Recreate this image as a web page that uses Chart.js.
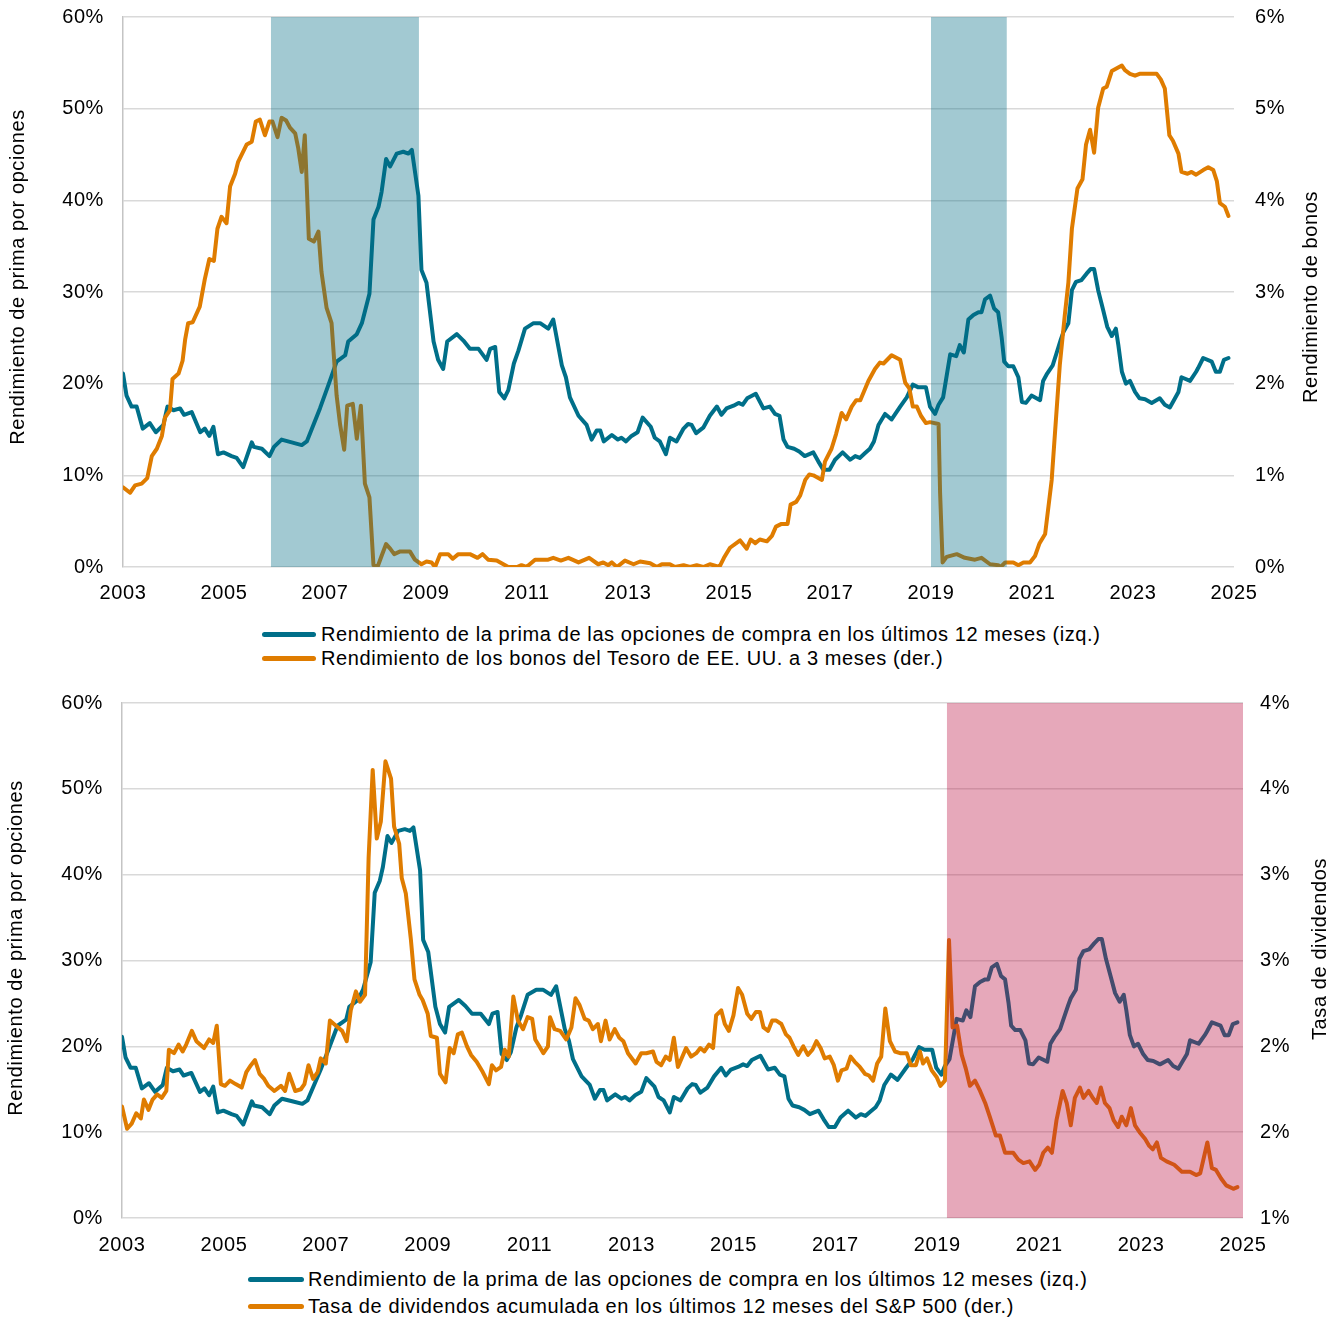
<!DOCTYPE html>
<html>
<head>
<meta charset="utf-8">
<script src="https://cdn.jsdelivr.net/npm/chart.js@4"></script>
<style>
  body { margin: 0; background: #fff; width: 1336px; height: 1319px; position: relative; overflow: hidden; }
  .box { position: absolute; left: 0; width: 1336px; }
  .legend { position: absolute; font: 20px "Liberation Sans", Arial, sans-serif; letter-spacing: .6px; color: #000; }
  .legend div { display: flex; align-items: center; white-space: nowrap; }
  .legend span { display: inline-block; height: 5px; border-radius: 3px; }
</style>
</head>
<body>
<div class="box" style="top:0;height:610px"><canvas id="topChart"></canvas></div>
<div class="legend" id="legTop" style="left:262px;top:622px;line-height:24px"></div>
<div class="box" style="top:680px;height:580px"><canvas id="bottomChart"></canvas></div>
<div class="legend" id="legBottom" style="left:248px;top:1266px;line-height:27px"></div>

<script>
// Rendimiento de la prima de las opciones de compra (izq., %)
const callYears = [2003.00,2003.07,2003.17,2003.27,2003.39,2003.53,2003.65,2003.80,2003.88,2004.00,2004.13,2004.21,2004.36,2004.53,2004.62,2004.71,2004.79,2004.88,2004.99,2005.15,2005.25,2005.38,2005.55,2005.59,2005.75,2005.90,2005.99,2006.14,2006.34,2006.54,2006.64,2006.77,2006.90,2007.07,2007.23,2007.40,2007.46,2007.63,2007.73,2007.88,2007.96,2008.06,2008.12,2008.21,2008.29,2008.42,2008.55,2008.65,2008.72,2008.85,2008.91,2009.01,2009.15,2009.24,2009.34,2009.42,2009.61,2009.74,2009.87,2010.04,2010.20,2010.27,2010.37,2010.45,2010.55,2010.63,2010.74,2010.83,2010.96,2011.13,2011.26,2011.42,2011.52,2011.69,2011.77,2011.85,2012.02,2012.18,2012.28,2012.38,2012.45,2012.52,2012.68,2012.80,2012.87,2012.96,2013.07,2013.19,2013.29,2013.45,2013.53,2013.63,2013.75,2013.83,2013.96,2014.10,2014.19,2014.26,2014.35,2014.49,2014.62,2014.76,2014.85,2014.95,2015.09,2015.19,2015.27,2015.36,2015.53,2015.68,2015.81,2015.91,2016.00,2016.08,2016.16,2016.29,2016.39,2016.50,2016.67,2016.77,2016.87,2016.99,2017.10,2017.25,2017.40,2017.50,2017.59,2017.69,2017.79,2017.87,2017.96,2018.09,2018.22,2018.39,2018.52,2018.64,2018.75,2018.90,2018.98,2019.08,2019.15,2019.24,2019.38,2019.50,2019.57,2019.65,2019.74,2019.84,2019.94,2020.00,2020.07,2020.17,2020.25,2020.33,2020.40,2020.45,2020.53,2020.63,2020.73,2020.80,2020.88,2020.99,2021.16,2021.22,2021.30,2021.41,2021.49,2021.57,2021.62,2021.72,2021.79,2021.87,2021.98,2022.08,2022.16,2022.23,2022.31,2022.41,2022.49,2022.58,2022.66,2022.71,2022.78,2022.86,2022.94,2023.04,2023.13,2023.24,2023.37,2023.53,2023.63,2023.73,2023.81,2023.90,2023.96,2024.13,2024.25,2024.29,2024.39,2024.56,2024.64,2024.72,2024.80,2024.89];
const callYield = [21.1,18.7,17.5,17.5,15.1,15.7,14.7,15.5,17.5,17.1,17.3,16.6,16.9,14.7,15.1,14.3,15.3,12.3,12.5,12.1,11.9,10.9,13.6,13.1,12.9,12.1,13.1,13.9,13.6,13.3,13.7,15.5,17.3,19.9,22.4,23.1,24.6,25.4,26.6,29.8,37.9,39.3,40.9,44.5,43.7,45.1,45.3,45.1,45.5,40.5,32.4,31.0,24.6,22.6,21.6,24.6,25.4,24.7,23.8,23.8,22.6,23.8,24.0,19.1,18.4,19.3,22.2,23.6,26.0,26.6,26.6,26.0,27.0,22.0,20.7,18.5,16.5,15.5,13.9,14.9,14.9,13.7,14.4,13.9,14.1,13.7,14.3,14.7,16.3,15.3,14.1,13.7,12.3,14.1,13.7,15.1,15.6,15.5,14.6,15.2,16.5,17.5,16.6,17.3,17.6,17.9,17.7,18.4,18.9,17.3,17.5,16.7,16.5,13.9,13.1,12.9,12.6,12.1,12.5,11.5,10.6,10.6,11.7,12.5,11.7,12.1,11.9,12.4,12.9,13.7,15.5,16.7,16.1,17.5,18.5,19.9,19.6,19.6,17.5,16.7,17.7,18.5,23.2,23.0,24.2,23.4,27.0,27.5,27.8,27.8,29.2,29.6,28.2,27.8,25.0,22.4,21.9,21.9,20.7,18.0,17.9,18.7,18.2,20.3,21.1,22.0,23.4,24.8,25.6,26.6,30.2,31.1,31.3,32.0,32.5,32.5,30.2,28.0,26.2,25.2,26.0,24.2,21.3,20.0,20.3,19.1,18.4,18.3,17.9,18.4,17.7,17.4,18.2,19.1,20.7,20.3,21.3,21.7,22.8,22.4,21.3,21.3,22.6,22.8];

// Rendimiento de los bonos del Tesoro a 3 meses (der., %)
const billYears = [2003.00,2003.14,2003.24,2003.37,2003.48,2003.57,2003.67,2003.77,2003.83,2003.93,2003.98,2004.10,2004.18,2004.23,2004.29,2004.38,2004.52,2004.62,2004.71,2004.80,2004.87,2004.95,2005.05,2005.12,2005.22,2005.28,2005.45,2005.55,2005.63,2005.71,2005.81,2005.90,2005.96,2006.06,2006.14,2006.23,2006.31,2006.41,2006.47,2006.54,2006.60,2006.68,2006.78,2006.87,2006.93,2007.03,2007.13,2007.23,2007.30,2007.38,2007.44,2007.55,2007.63,2007.71,2007.79,2007.88,2007.96,2008.04,2008.12,2008.21,2008.29,2008.37,2008.49,2008.68,2008.78,2008.91,2009.01,2009.11,2009.18,2009.28,2009.44,2009.53,2009.64,2009.87,2010.02,2010.12,2010.23,2010.40,2010.63,2010.80,2010.89,2010.99,2011.16,2011.42,2011.52,2011.67,2011.82,2012.02,2012.23,2012.41,2012.51,2012.61,2012.68,2012.78,2012.94,2013.11,2013.24,2013.44,2013.57,2013.67,2013.83,2013.93,2014.10,2014.23,2014.36,2014.49,2014.62,2014.81,2014.90,2015.02,2015.22,2015.35,2015.43,2015.52,2015.61,2015.75,2015.85,2015.93,2016.04,2016.16,2016.22,2016.33,2016.41,2016.51,2016.59,2016.67,2016.84,2016.90,2017.03,2017.12,2017.23,2017.32,2017.43,2017.52,2017.60,2017.76,2017.89,2017.99,2018.06,2018.22,2018.39,2018.49,2018.57,2018.64,2018.72,2018.80,2018.90,2018.98,2019.15,2019.18,2019.23,2019.31,2019.51,2019.67,2019.87,2020.00,2020.17,2020.33,2020.38,2020.47,2020.63,2020.73,2020.83,2020.96,2021.06,2021.15,2021.26,2021.39,2021.46,2021.55,2021.65,2021.72,2021.79,2021.90,2022.00,2022.07,2022.15,2022.23,2022.31,2022.41,2022.48,2022.58,2022.68,2022.78,2022.84,2022.94,2023.04,2023.13,2023.27,2023.47,2023.55,2023.63,2023.72,2023.79,2023.90,2023.96,2024.08,2024.16,2024.25,2024.39,2024.49,2024.59,2024.66,2024.72,2024.82,2024.89];
const billYield = [0.87,0.81,0.89,0.91,0.97,1.21,1.29,1.43,1.63,1.71,2.05,2.11,2.25,2.48,2.66,2.67,2.84,3.14,3.36,3.34,3.69,3.82,3.75,4.15,4.29,4.42,4.61,4.64,4.86,4.88,4.71,4.86,4.86,4.69,4.90,4.87,4.79,4.73,4.57,4.31,4.71,3.58,3.55,3.66,3.22,2.83,2.66,1.87,1.55,1.28,1.76,1.78,1.40,1.76,0.91,0.76,0.02,0.00,0.12,0.25,0.20,0.14,0.17,0.17,0.08,0.03,0.06,0.05,0.00,0.14,0.14,0.09,0.14,0.14,0.10,0.14,0.08,0.07,0.00,0.00,0.02,0.00,0.08,0.08,0.10,0.07,0.10,0.05,0.10,0.03,0.05,0.02,0.05,0.00,0.07,0.03,0.06,0.04,0.00,0.03,0.03,0.00,0.02,0.00,0.02,0.00,0.03,0.00,0.10,0.21,0.29,0.20,0.30,0.26,0.30,0.28,0.34,0.44,0.47,0.47,0.68,0.71,0.78,0.95,1.01,1.00,0.95,1.15,1.29,1.45,1.68,1.61,1.75,1.82,1.82,2.03,2.16,2.23,2.22,2.31,2.26,2.01,1.95,1.75,1.75,1.65,1.57,1.58,1.56,0.81,0.05,0.11,0.14,0.10,0.08,0.10,0.03,0.02,0.00,0.05,0.05,0.02,0.05,0.05,0.12,0.26,0.36,0.95,1.50,2.20,2.75,3.10,3.69,4.13,4.23,4.61,4.77,4.52,5.01,5.22,5.24,5.41,5.44,5.47,5.42,5.38,5.36,5.38,5.38,5.38,5.32,5.22,4.71,4.65,4.51,4.31,4.29,4.31,4.28,4.33,4.36,4.33,4.21,3.97,3.93,3.83];

// Tasa de dividendos acumulada 12 meses del S&P 500 (der., %)
const divYears = [2003.00,2003.10,2003.19,2003.28,2003.37,2003.43,2003.52,2003.60,2003.69,2003.78,2003.87,2003.92,2004.02,2004.11,2004.19,2004.26,2004.37,2004.46,2004.61,2004.71,2004.79,2004.86,2004.94,2005.02,2005.12,2005.23,2005.35,2005.44,2005.53,2005.61,2005.70,2005.79,2005.87,2005.99,2006.12,2006.20,2006.28,2006.40,2006.51,2006.58,2006.66,2006.75,2006.84,2006.90,2007.00,2007.08,2007.20,2007.32,2007.41,2007.49,2007.59,2007.67,2007.77,2007.84,2007.92,2008.00,2008.08,2008.17,2008.28,2008.34,2008.44,2008.49,2008.57,2008.67,2008.74,2008.84,2008.90,2009.00,2009.06,2009.18,2009.24,2009.35,2009.43,2009.51,2009.59,2009.67,2009.77,2009.85,2009.96,2010.08,2010.20,2010.26,2010.34,2010.44,2010.51,2010.59,2010.68,2010.77,2010.87,2010.96,2011.05,2011.11,2011.19,2011.27,2011.36,2011.40,2011.49,2011.60,2011.72,2011.82,2011.90,2011.98,2012.08,2012.16,2012.24,2012.34,2012.40,2012.49,2012.57,2012.67,2012.76,2012.84,2012.93,2013.08,2013.19,2013.29,2013.42,2013.49,2013.58,2013.67,2013.75,2013.83,2013.91,2014.07,2014.17,2014.27,2014.35,2014.43,2014.52,2014.60,2014.66,2014.76,2014.83,2014.91,2015.00,2015.09,2015.17,2015.27,2015.35,2015.44,2015.52,2015.59,2015.68,2015.76,2015.84,2015.94,2016.03,2016.10,2016.18,2016.27,2016.37,2016.46,2016.55,2016.63,2016.71,2016.79,2016.89,2016.97,2017.05,2017.12,2017.22,2017.30,2017.38,2017.48,2017.58,2017.66,2017.74,2017.82,2017.90,2017.98,2018.07,2018.17,2018.27,2018.40,2018.48,2018.58,2018.66,2018.72,2018.80,2018.89,2018.99,2019.06,2019.15,2019.23,2019.30,2019.39,2019.48,2019.56,2019.64,2019.74,2019.84,2019.94,2020.03,2020.15,2020.23,2020.33,2020.49,2020.59,2020.69,2020.81,2020.92,2021.00,2021.08,2021.17,2021.25,2021.34,2021.46,2021.54,2021.62,2021.70,2021.80,2021.87,2021.97,2022.05,2022.13,2022.21,2022.29,2022.38,2022.46,2022.55,2022.62,2022.71,2022.80,2022.88,2022.97,2023.08,2023.16,2023.23,2023.31,2023.39,2023.50,2023.65,2023.80,2023.96,2024.08,2024.16,2024.30,2024.39,2024.47,2024.57,2024.67,2024.81,2024.89];
const divYield = [1.65,1.52,1.55,1.61,1.58,1.69,1.63,1.69,1.72,1.70,1.74,1.98,1.96,2.01,1.97,2.01,2.09,2.03,1.99,2.04,2.02,2.12,1.78,1.77,1.80,1.78,1.76,1.85,1.89,1.92,1.84,1.81,1.77,1.74,1.77,1.74,1.84,1.74,1.75,1.78,1.89,1.81,1.85,1.93,1.90,2.15,2.12,2.09,2.03,2.21,2.32,2.26,2.30,3.10,3.61,3.21,3.31,3.66,3.56,3.28,3.18,2.98,2.89,2.62,2.39,2.30,2.27,2.19,2.06,2.05,1.84,1.79,1.99,1.96,2.07,2.08,2.00,1.95,1.91,1.85,1.78,1.89,1.86,1.88,1.98,1.94,2.29,2.15,2.10,2.17,2.16,2.04,2.00,1.96,2.00,2.17,2.10,2.09,2.04,2.11,2.28,2.24,2.16,2.15,2.10,2.13,2.03,2.15,2.04,2.10,2.05,2.03,1.96,1.90,1.96,1.96,1.97,1.91,1.89,1.94,1.92,2.05,1.88,1.99,1.94,1.96,1.99,1.97,2.01,1.99,2.18,2.21,2.13,2.09,2.18,2.34,2.30,2.19,2.16,2.20,2.20,2.11,2.09,2.15,2.15,2.13,2.07,2.05,2.00,1.95,2.00,1.95,1.98,2.03,1.99,1.93,1.94,1.89,1.80,1.86,1.87,1.94,1.91,1.88,1.84,1.83,1.80,1.90,1.94,2.22,2.03,1.97,1.96,1.96,1.89,1.89,1.97,1.90,1.93,1.86,1.82,1.77,1.80,2.62,2.11,2.12,1.95,1.87,1.77,1.80,1.74,1.67,1.59,1.48,1.48,1.38,1.38,1.34,1.32,1.33,1.28,1.31,1.38,1.41,1.38,1.57,1.74,1.67,1.54,1.70,1.76,1.70,1.74,1.70,1.67,1.76,1.67,1.64,1.57,1.53,1.59,1.54,1.64,1.54,1.50,1.46,1.42,1.40,1.44,1.35,1.33,1.31,1.27,1.27,1.25,1.26,1.44,1.29,1.28,1.23,1.19,1.17,1.18];

// zonas sombreadas (años)
const topShade = [[2005.93, 2008.86], [2019.00, 2020.50]];
const bottomShade = [[2019.19, 2025]];

const xTickStep = 2;
const leftTicks = [0, 10, 20, 30, 40, 50, 60];
const billTicks = [0, 1, 2, 3, 4, 5, 6];
const divTicks = [1, 1.5, 2, 2.5, 3, 3.5, 4];
const divTickLabels = ['1%', '2%', '2%', '3%', '3%', '4%', '4%'];

const labelCall = 'Rendimiento de la prima de las opciones de compra en los últimos 12 meses (izq.)';
const labelBill = 'Rendimiento de los bonos del Tesoro de EE. UU. a 3 meses (der.)';
const labelDiv = 'Tasa de dividendos acumulada en los últimos 12 meses del S&P 500 (der.)';

const TEAL = '#006F89';
const ORANGE = '#DF7C00';
const FONT = '"Liberation Sans", Arial, sans-serif';

const pts = (xs, ys) => xs.map((x, i) => ({ x, y: ys[i] }));

function shade(ranges, color) {
  return {
    id: 'shade',
    afterDatasetsDraw(chart) {
      const { ctx, chartArea, scales } = chart;
      ctx.save();
      ctx.fillStyle = color;
      ranges.forEach(([a, b]) => {
        const x0 = scales.x.getPixelForValue(a);
        const x1 = Math.min(scales.x.getPixelForValue(b), chartArea.right);
        ctx.fillRect(x0, chartArea.top, x1 - x0, chartArea.bottom - chartArea.top);
      });
      ctx.restore();
    }
  };
}

function sideTitles(items) {
  return {
    id: 'sideTitles',
    beforeDraw(chart) { chart.ctx.letterSpacing = '0.6px'; },
    afterDraw(chart) {
      const ctx = chart.ctx;
      items.forEach(t => {
        ctx.save();
        ctx.translate(t.x, t.y);
        ctx.rotate(-Math.PI / 2);
        ctx.font = '20px ' + FONT;
        ctx.fillStyle = '#000';
        ctx.textAlign = 'center';
        ctx.textBaseline = 'middle';
        ctx.fillText(t.text, 0, 0);
        ctx.restore();
      });
    }
  };
}

function lineSet(label, data, color, axis, order) {
  return {
    label, data, yAxisID: axis, order,
    borderColor: color, borderWidth: 4, pointRadius: 0,
    tension: 0, borderJoinStyle: 'round', borderCapStyle: 'round', fill: false
  };
}

// the tick padding would otherwise push the plot area down
function noPad(s) { s.paddingTop = 0; s.paddingBottom = 0; s.paddingLeft = 0; s.paddingRight = 0; }

function makeChart(id, cfg) {
  const tickFont = { family: FONT, size: 20 };
  return new Chart(document.getElementById(id), {
    type: 'line',
    data: { datasets: cfg.datasets },
    options: {
      responsive: true, maintainAspectRatio: false, animation: false,
      layout: { padding: { top: cfg.top, left: 0, right: 0, bottom: 0 } },
      plugins: { legend: { display: false }, tooltip: { enabled: false } },
      scales: {
        x: {
          type: 'linear', min: 2003, max: 2025,
          grid: { display: false }, border: { display: false },
          ticks: { stepSize: xTickStep, autoSkip: false, maxRotation: 0, padding: cfg.xPad,
                   color: '#000', font: tickFont, callback: v => String(v) },
          afterFit: s => { s.height = cfg.xH; noPad(s); }
        },
        y: {
          position: 'left', min: 0, max: 60,
          grid: { color: '#d9d9d9', lineWidth: 1.5, drawTicks: false },
          border: { display: true, color: '#c4c4c4', width: 1.5 },
          afterBuildTicks: s => { s.ticks = leftTicks.map(v => ({ value: v })); },
          ticks: { padding: 19, color: '#000', font: tickFont, callback: v => v + '%' },
          afterFit: s => { s.width = cfg.leftW; noPad(s); }
        },
        y2: {
          position: 'right', min: cfg.rMin, max: cfg.rMax,
          grid: { display: false, drawTicks: false }, border: { display: false },
          afterBuildTicks: s => { s.ticks = cfg.rTicks.map(v => ({ value: v })); },
          ticks: { padding: cfg.rPad, color: '#000', font: tickFont, callback: cfg.rLabel },
          afterFit: s => { s.width = cfg.rightW; noPad(s); }
        }
      }
    },
    plugins: [shade(cfg.shade, cfg.shadeColor), sideTitles(cfg.titles)]
  });
}

makeChart('topChart', {
  datasets: [
    lineSet(labelCall, pts(callYears, callYield), TEAL, 'y', 2),
    lineSet(labelBill, pts(billYears, billYield), ORANGE, 'y2', 1)
  ],
  top: 17, xH: 43, xPad: 6, leftW: 123, rightW: 102, rPad: 21,
  rMin: 0, rMax: 6, rTicks: billTicks, rLabel: v => v + '%',
  shade: topShade, shadeColor: 'rgba(0,107,132,0.365)',
  titles: [
    { text: 'Rendimiento de prima por opciones', x: 18, y: 277 },
    { text: 'Rendimiento de bonos', x: 1311, y: 297 }
  ]
});

makeChart('bottomChart', {
  datasets: [
    lineSet(labelCall, pts(callYears, callYield), TEAL, 'y', 2),
    lineSet(labelDiv, pts(divYears, divYield), ORANGE, 'y2', 1)
  ],
  top: 23, xH: 42, xPad: 7, leftW: 122, rightW: 93, rPad: 17,
  rMin: 1, rMax: 4, rTicks: divTicks, rLabel: (v, i) => divTickLabels[i],
  shade: bottomShade, shadeColor: 'rgba(185,15,65,0.36)',
  titles: [
    { text: 'Rendimiento de prima por opciones', x: 16, y: 268 },
    { text: 'Tasa de dividendos', x: 1320, y: 269 }
  ]
});

function legend(id, items, sw) {
  document.getElementById(id).innerHTML = items.map(([c, t]) =>
    `<div><span style="background:${c};width:${sw[0]}px;margin-right:${sw[1]}px"></span>${t.replace('&', '&amp;')}</div>`
  ).join('');
}
legend('legTop', [[TEAL, labelCall], [ORANGE, labelBill]], [54, 5]);
legend('legBottom', [[TEAL, labelCall], [ORANGE, labelDiv]], [56, 4]);
</script>
</body>
</html>
